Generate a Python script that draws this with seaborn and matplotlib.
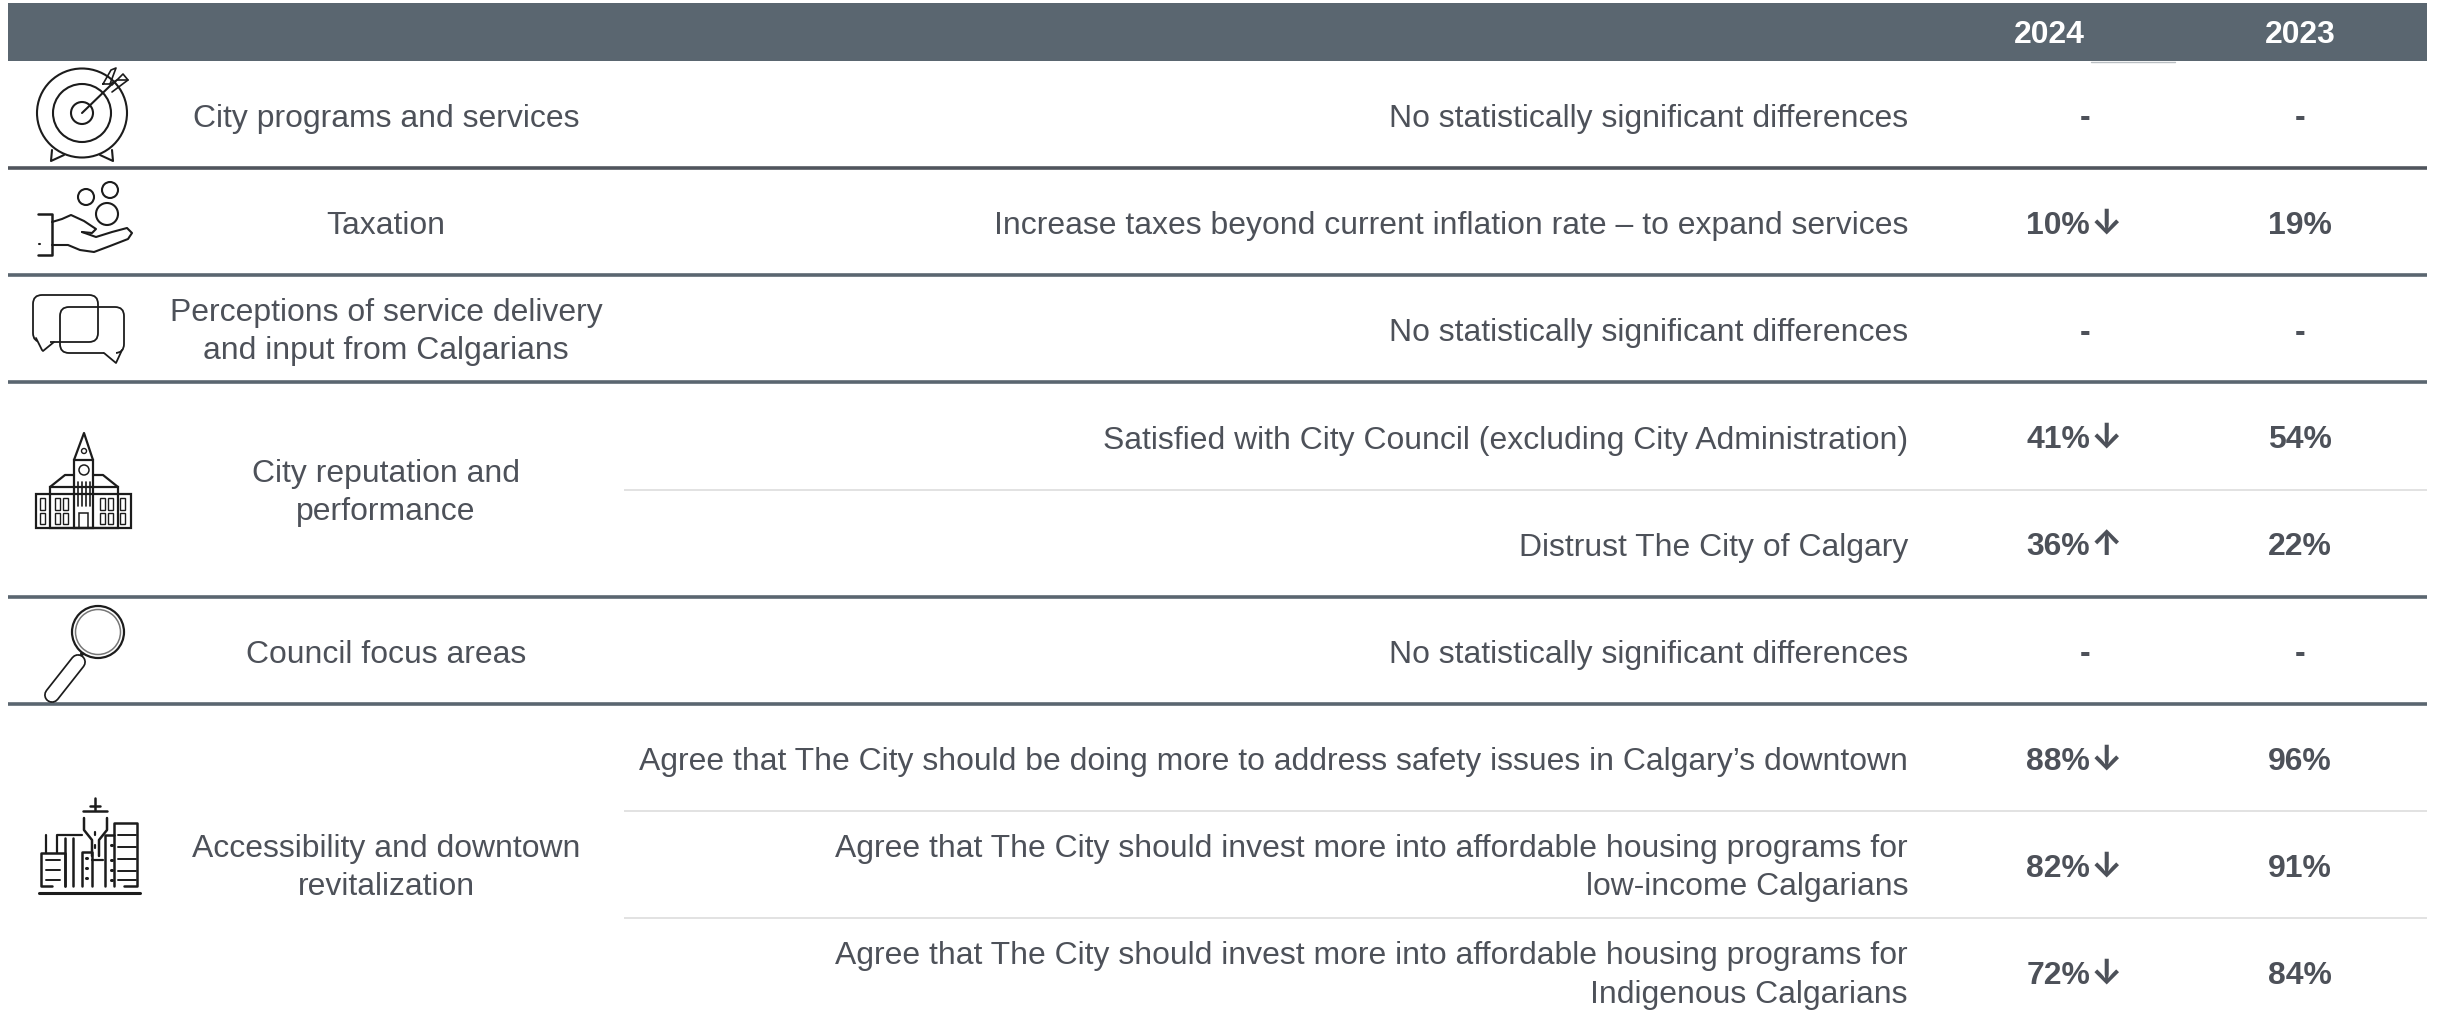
import numpy as np
import pandas as pd
import seaborn as sns
import matplotlib.pyplot as plt
from matplotlib.patches import Circle, Ellipse, FancyBboxPatch, Rectangle

# table content
years = ['2024', '2023']
categories = [
    'City programs and services',
    'Taxation',
    'Perceptions of service delivery\nand input from Calgarians',
    'City reputation and\nperformance',
    'Council focus areas',
    'Accessibility and downtown\nrevitalization',
]
no_diff = 'No statistically significant differences'
measures = [
    no_diff,
    'Increase taxes beyond current inflation rate \u2013 to expand services',
    no_diff,
    'Satisfied with City Council (excluding City Administration)',
    'Distrust The City of Calgary',
    no_diff,
    'Agree that The City should be doing more to address safety issues in Calgary\u2019s downtown',
    'Agree that The City should invest more into affordable housing programs for\nlow-income Calgarians',
    'Agree that The City should invest more into affordable housing programs for\nIndigenous Calgarians',
]
measure_category = [0, 1, 2, 3, 3, 4, 5, 5, 5]
values_2024 = [None, 10, None, 41, 36, None, 88, 82, 72]
values_2023 = [None, 19, None, 54, 22, None, 96, 91, 84]
change_2024 = ['', '\u2193', '', '\u2193', '\u2191', '', '\u2193', '\u2193', '\u2193']

table = pd.DataFrame({'measure': measures, 'category': measure_category,
                      'v2024': values_2024, 'v2023': values_2023, 'change': change_2024})

# layout in pixels of the 2440x1023 picture
W, H = 2440, 1023
LEFT, RIGHT = 8, 2427
HEAD_TOP, HEAD_BOTTOM = 3, 61
ROW_H = 107.2
MEASURE_X = 1908
MID_X = 624
LABEL_X = 386
COL_2024, COL_2023 = 2049, 2300
TXT = '#4d5159'
HEAD = '#5a6670'
RULE = '#5a6670'
SOFT = '#e2e2e2'
ICON = '#1c1c1c'
FS = 22.95

sns.set_theme(style='white', rc={'figure.facecolor': 'white', 'axes.facecolor': 'white'})
plt.rcParams['font.family'] = ['Liberation Sans', 'DejaVu Sans']

fig = plt.figure(figsize=(W / 100, H / 100), dpi=100)
ax = fig.add_axes([0, 0, 1, 1])
ax.set_xlim(0, W)
ax.set_ylim(H, 0)
ax.set_xticks([])
ax.set_yticks([])
sns.despine(ax=ax, left=True, bottom=True, top=True, right=True)


def line(xs, ys, lw=1.5, color=ICON):
    ax.plot(xs, ys, color=color, lw=lw, solid_capstyle='round', solid_joinstyle='round')


def ring(x, y, r, lw=1.5, ry=None):
    ax.add_patch(Ellipse((x, y), 2 * r, 2 * (ry or r), fill=False, ec=ICON, lw=lw))


def box(x0, y0, x1, y1, lw=1.3):
    ax.add_patch(Rectangle((x0, y0), x1 - x0, y1 - y0, fill=False, ec=ICON, lw=lw))


def icon_target():
    ring(82, 113, 45, ry=44.5)
    ring(82, 113, 29)
    ring(82, 113, 11)
    line([82, 112], [113, 84])
    line([52, 51, 64], [150, 161, 155])
    line([112, 113, 100], [150, 161, 155])
    # fletching
    line([103, 111, 116, 110, 103], [84, 70, 68, 84, 84], lw=1.2)
    line([112, 128, 123, 112], [92, 80, 74, 85], lw=1.2)
    line([110, 117, 128], [84, 80, 80], lw=1.2)


def icon_hand():
    ring(86, 197, 8)
    ring(110, 190, 8)
    ring(107, 214, 11)
    line([38, 52, 52, 38], [214, 214, 255, 255], lw=1.8)
    line([52, 62, 71, 84, 96, 92, 82], [222, 219, 215, 221, 229, 233, 232])
    line([82, 96, 112, 127, 132, 128, 110, 94, 80, 68, 52],
         [232, 237, 232, 228, 233, 239, 246, 252, 250, 245, 245])
    line([39, 40], [244, 244], lw=1.5)


def icon_bubbles():
    ax.add_patch(FancyBboxPatch((38, 300), 55, 37, boxstyle='round,pad=5,rounding_size=9',
                                fill=False, ec=ICON, lw=1.3))
    ax.add_patch(FancyBboxPatch((65, 312), 54, 36, boxstyle='round,pad=5,rounding_size=9',
                                fill=False, ec=ICON, lw=1.3))
    ax.add_patch(Rectangle((38, 338), 12, 8, fc='white', ec='none'))
    line([36, 42, 43, 54], [338, 350, 351, 342], lw=1.3)
    ax.add_patch(Rectangle((104, 349), 12, 6, fc='white', ec='none'))
    line([104, 116, 116, 122], [353, 363, 363, 350], lw=1.3)


def icon_building():
    box(36, 494, 131, 528, lw=1.6)
    box(50, 487, 118, 528, lw=1.6)
    box(74, 460, 93, 528, lw=1.6)
    line([74, 84, 93], [460, 433, 460], lw=1.6)
    line([50, 65, 74], [487, 475, 475], lw=1.6)
    line([118, 103, 93], [487, 475, 475], lw=1.6)
    ring(84, 470, 5, lw=1.1)
    ring(84, 451, 2.5, lw=1.0)
    for x in [78, 82, 86, 90]:
        line([x, x], [482, 506], lw=1.2)
    line([74, 93], [494, 494], lw=1.2)
    box(79, 513, 88, 528, lw=1.1)
    for x in [40, 55, 63, 100, 108, 120]:
        box(x, 498, x + 5, 510, lw=1.0)
        box(x, 513, x + 5, 524, lw=1.0)


def icon_magnifier():
    line([78, 52], [662, 695], lw=11.5, color=ICON)
    line([78, 52], [662, 695], lw=9, color='white')
    line([82, 84], [654, 651], lw=3)
    ax.add_patch(Circle((98, 632), 26, fc='white', ec=ICON, lw=1.6, zorder=3))
    ax.add_patch(Circle((98, 632), 22.5, fill=False, ec='#777777', lw=1.1, zorder=4))


def icon_city():
    line([39, 140], [893, 893], lw=2.2)
    # tower
    line([95, 95], [798, 810], lw=1.8)
    line([90, 100], [806, 806], lw=1.8)
    line([83, 107], [811, 811], lw=1.8)
    line([84, 84, 92, 92], [818, 830, 840, 856], lw=1.8)
    line([107, 107, 99, 99], [818, 830, 840, 856], lw=1.8)
    for y in [832, 845]:
        line([95, 95], [y, y + 3], lw=1.6)
    # right block with floors
    line([114, 114, 137, 137, 124], [886, 823, 823, 886, 886], lw=1.8)
    for y in [835, 847, 859, 871, 880]:
        line([118, 136], [y, y], lw=1.4)
    # middle blocks
    line([105, 105, 114], [886, 835, 835], lw=1.8)
    for y in [845, 860, 870, 880]:
        line([111, 112], [y, y], lw=2.2)
    line([82, 82, 92, 92], [886, 852, 852, 886], lw=1.8)
    for y in [858, 868, 878]:
        line([86, 87], [y, y], lw=2.2)
    line([92, 92, 103], [860, 860, 860], lw=1.6)
    for x in [73, 65]:
        line([x, x], [886, 838], lw=1.8)
    line([46, 46], [853, 835], lw=1.6)
    line([57, 57, 82], [853, 835, 835], lw=1.6)
    # left block with windows
    line([52, 41, 41, 65, 65], [886, 886, 853, 853, 886], lw=1.8)
    for y in [860, 870, 880]:
        line([46, 60], [y, y], lw=1.4)


# header band and rules
ax.add_patch(Rectangle((LEFT, HEAD_TOP), RIGHT - LEFT, HEAD_BOTTOM - HEAD_TOP, fc=HEAD, ec='none'))
ax.plot([2091, 2175], [61.5, 61.5], color='#b9bec2', lw=1)
for col, yr in zip([COL_2024, COL_2023], years):
    ax.text(col, 35, yr, color='white', fontsize=FS, fontweight='bold', ha='center', va='center')

row_top = 60.8 + np.arange(len(table) + 1) * ROW_H

cat_rows = table.groupby('category').apply(lambda g: (g.index.min(), g.index.max()), include_groups=False)
for cat, (first, last) in cat_rows.items():
    mid = (row_top[first] + row_top[last + 1]) / 2
    n_lines = categories[cat].count('\n') + 1
    ax.text(LABEL_X, mid + (4.5 if n_lines == 1 else 3.5), categories[cat], color=TXT, fontsize=FS,
            ha='center', va='center', linespacing=1.35)
    # strong rule below each group except the last, soft ones inside it
    if last + 1 < len(table):
        ax.plot([LEFT, RIGHT], [row_top[last + 1]] * 2, color='#50555d' if cat == 0 else RULE,
                lw=2.6, solid_capstyle='butt')
    for i in range(first + 1, last + 1):
        ax.plot([MID_X, RIGHT], [row_top[i]] * 2, color=SOFT, lw=1.4, solid_capstyle='butt')

for i, row in table.iterrows():
    mid = (row_top[i] + row_top[i + 1]) / 2
    ax.text(MEASURE_X, mid + (3.5 if '\n' in row['measure'] else 4.5), row['measure'], color=TXT, fontsize=FS,
            ha='right', va='center', multialignment='right', linespacing=1.35)
    if pd.isna(row['v2024']):
        ax.text(2085, mid + 4, '-', color=TXT, fontsize=FS, fontweight='bold', ha='center', va='center')
        ax.text(COL_2023, mid + 4, '-', color=TXT, fontsize=FS, fontweight='bold', ha='center', va='center')
    else:
        ax.text(2090, mid + 4, f"{row['v2024']:.0f}%", color=TXT, fontsize=FS, fontweight='bold', ha='right', va='center')
        ax.text(2091, mid + 2.5, row['change'], color=TXT, fontsize=25, fontweight='bold', family=['Inter', 'DejaVu Sans'],
                ha='left', va='center')
        ax.text(COL_2023, mid + 4, f"{row['v2023']:.0f}%", color=TXT, fontsize=FS, fontweight='bold', ha='center', va='center')

icon_target()
icon_hand()
icon_bubbles()
icon_building()
icon_magnifier()
icon_city()

fig.savefig('out.png', dpi=100)
